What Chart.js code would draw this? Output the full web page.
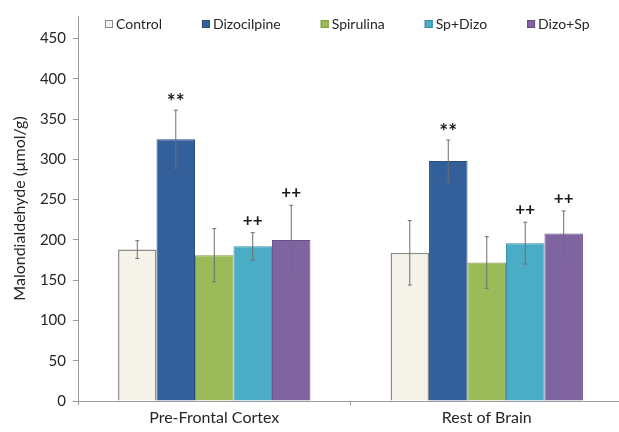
<!DOCTYPE html>
<html>
<head>
<meta charset="utf-8">
<title>Malondialdehyde</title>
<script src="https://cdn.jsdelivr.net/npm/chart.js@4.4.1/dist/chart.umd.min.js"></script>
<style>
  html, body { margin: 0; padding: 0; background: #fff; overflow: hidden; }
  canvas { display: block; }
</style>
</head>
<body>
<canvas id="mdaChart" width="625" height="432"></canvas>
<script>
// Data
const regions = ["Pre-Frontal Cortex", "Rest of Brain"];
const groups = ["Control", "Dizocilpine", "Spirulina", "Sp+Dizo", "Dizo+Sp"];

const control = [188, 184];
const dizocilpine = [325, 298];
const spirulina = [181, 172];
const spDizo = [192, 196];
const dizoSp = [200, 208];

const controlErr = [11, 40];
const dizocilpineErr = [36, 26];
const spirulinaErr = [33, 32];
const spDizoErr = [17, 26];
const dizoSpErr = [43, 28];

// significance marks above each bar
const controlSig = ["", ""];
const dizocilpineSig = ["**", "**"];
const spirulinaSig = ["", ""];
const spDizoSig = ["++", "++"];
const dizoSpSig = ["++", "++"];

const yTicks = [0, 50, 100, 150, 200, 250, 300, 350, 400, 450];

const values = [control, dizocilpine, spirulina, spDizo, dizoSp];
const errors = [controlErr, dizocilpineErr, spirulinaErr, spDizoErr, dizoSpErr];
const marks = [controlSig, dizocilpineSig, spirulinaSig, spDizoSig, dizoSpSig];

const fills = ["#f4f2e9", "#33609b", "#9bbb59", "#4bacc6", "#8064a2"];
const borders = ["#8c8c8c", "#2a4f80", "#7f9a48", "#3a8ea5", "#665085"];

const FONT = "Lato, 'Open Sans', sans-serif";
const TEXT = "#262626";
const AXIS = "#9a9a9a";

// Error bars and the ** / ++ marks
const errorBars = {
  id: "errorBars",
  afterDatasetsDraw(chart) {
    const ctx = chart.ctx;
    const y = chart.scales.y;
    ctx.save();
    chart.data.datasets.forEach((ds, i) => {
      chart.getDatasetMeta(i).data.forEach((bar, j) => {
        const v = ds.data[j];
        const top = y.getPixelForValue(v + errors[i][j]);
        const bottom = y.getPixelForValue(v - errors[i][j]);
        ctx.strokeStyle = "#6e6e6e";
        ctx.lineWidth = 1;
        ctx.beginPath();
        ctx.moveTo(bar.x, top);
        ctx.lineTo(bar.x, bottom);
        ctx.moveTo(bar.x - 2, top);
        ctx.lineTo(bar.x + 2, top);
        ctx.moveTo(bar.x - 2, bottom);
        ctx.lineTo(bar.x + 2, bottom);
        ctx.stroke();

        const m = marks[i][j];
        if (m) {
          ctx.fillStyle = "#1a1a1a";
          ctx.textAlign = "center";
          ctx.textBaseline = "alphabetic";
          if (m.includes("*")) {
            ctx.font = "bold 21px " + FONT;
            ctx.fillText(m, bar.x, top - 1);
          } else {
            ctx.font = "bold 17px " + FONT;
            ctx.fillText(m, bar.x, top - 7);
          }
        }
      });
    });
    ctx.restore();
  }
};

// Legend drawn inside the plot, along the top
const topLegend = {
  id: "topLegend",
  afterDraw(chart) {
    const ctx = chart.ctx;
    let x = 105;
    const y = 24;
    ctx.save();
    ctx.font = "14px " + FONT;
    ctx.textBaseline = "middle";
    ctx.textAlign = "left";
    chart.data.datasets.forEach((ds) => {
      ctx.fillStyle = ds.backgroundColor;
      ctx.fillRect(x, y - 4, 8, 8);
      ctx.strokeStyle = ds.borderColor;
      ctx.lineWidth = 1;
      ctx.strokeRect(x + 0.5, y - 3.5, 7, 7);
      ctx.fillStyle = TEXT;
      ctx.fillText(ds.label, x + 11, y);
      x += 11 + ctx.measureText(ds.label).width + 40;
    });
    ctx.restore();
  }
};

const ctx = document.getElementById("mdaChart").getContext("2d");
const mdaChart = new Chart(ctx, {
  type: "bar",
  data: {
    labels: regions,
    datasets: groups.map((g, i) => ({
      label: g,
      data: values[i],
      backgroundColor: fills[i],
      borderColor: borders[i],
      borderWidth: i === 0 ? 1.5 : 1,
      barPercentage: 1,
      categoryPercentage: 0.706
    }))
  },
  options: {
    responsive: false,
    animation: false,
    layout: { padding: { top: 15, right: 2, left: 0, bottom: 0 } },
    plugins: {
      legend: { display: false },
      tooltip: { enabled: false }
    },
    scales: {
      x: {
        grid: { display: true, drawOnChartArea: false, color: AXIS, tickLength: 4 },
        border: { color: AXIS, width: 1 },
        ticks: { color: TEXT, font: { family: FONT, size: 16 }, padding: 3 },
        afterFit(scale) { scale.height = 31; }
      },
      y: {
        min: 0,
        max: 478,
        afterBuildTicks(scale) { scale.ticks = yTicks.map(v => ({ value: v })); },
        grid: { display: true, drawOnChartArea: false, color: AXIS, tickLength: 5 },
        border: { color: AXIS, width: 1 },
        ticks: { color: TEXT, font: { family: FONT, size: 15 }, padding: 7 },
        title: {
          display: true,
          text: "Malondialdehyde (\u00b5mol/g)",
          color: TEXT,
          font: { family: FONT, size: 16 },
          padding: { top: 10, bottom: 0 }
        },
        afterFit(scale) { scale.width = 78; }
      }
    }
  },
  plugins: [errorBars, topLegend]
});
</script>
</body>
</html>
